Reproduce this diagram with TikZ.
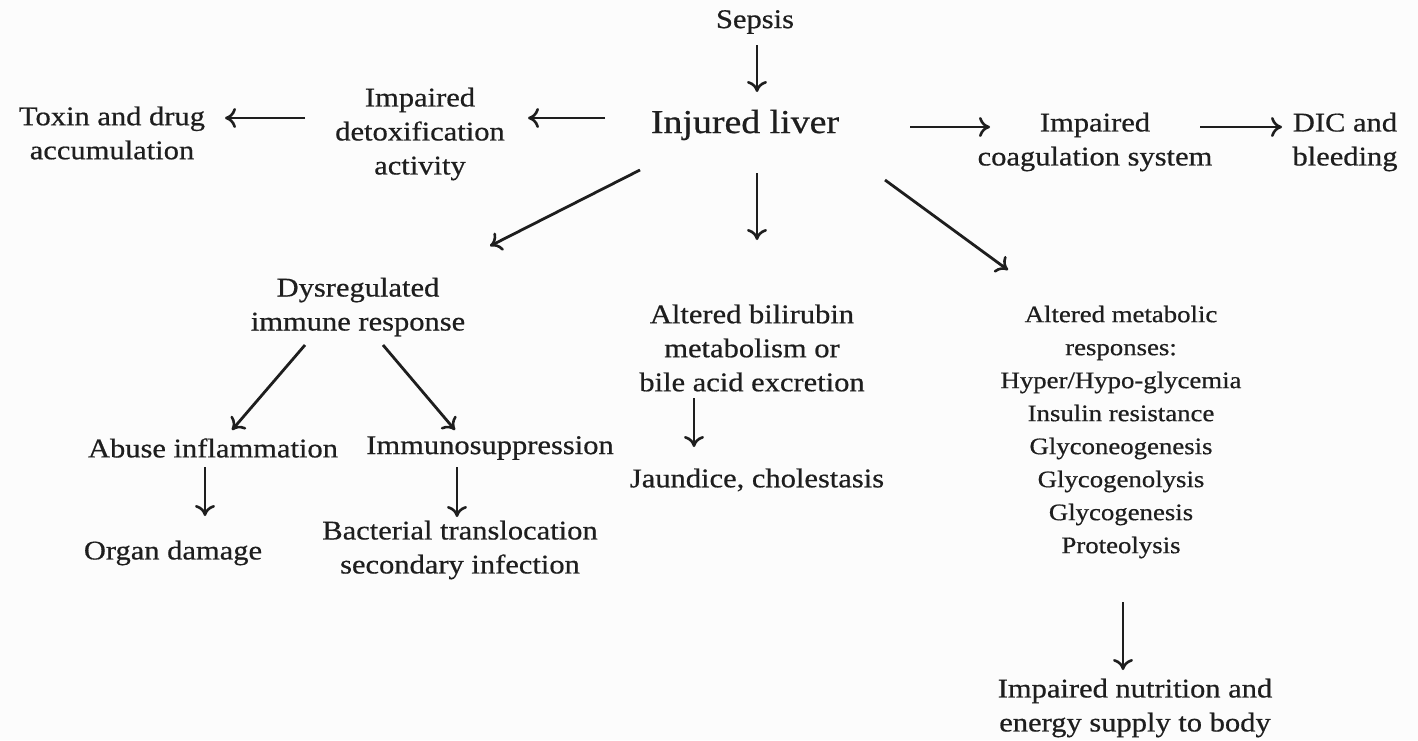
\documentclass[tikz,border=0pt]{standalone}
\usepackage{fontspec}
\setmainfont{Liberation Serif}[FakeStretch=1.13,FakeBold=0.6]
\usetikzlibrary{arrows.meta,calc}
\definecolor{ink}{HTML}{1E1E1E}
\definecolor{paper}{HTML}{FCFCFC}
\begin{document}
\begin{tikzpicture}[x=1pt,y=-1pt,
  lbl/.style={inner sep=0pt,align=center,text=ink,font=\fontsize{27}{34}\selectfont},
  small/.style={inner sep=0pt,align=center,text=ink,font=\fontsize{23.7}{33}\selectfont},
  big/.style={inner sep=0pt,align=center,text=ink,font=\fontsize{33.5}{36}\selectfont},
  arr/.style={draw=ink,line width=2.8pt,-{To[length=11pt,width=20pt,line width=2.6pt]}}]
\useasboundingbox[fill=paper] (0,0) rectangle (1418,740);
\node[lbl] (sep) at (755,22) {Sepsis};
\node[big] (inj) at (745,125) {Injured liver};
\node[lbl] (det) at (420,134) {Impaired\\detoxification\\activity};
\node[lbl] (tox) at (112,133) {Toxin and drug\\accumulation};
\node[lbl] (coag) at (1095,142) {Impaired\\coagulation system};
\node[lbl] (dic) at (1345,142) {DIC and\\bleeding};
\node[lbl] (dys) at (358,307) {Dysregulated\\immune response};
\node[lbl] (bil) at (752,348) {Altered bilirubin\\metabolism or\\bile acid excretion};
\node[small] (met) at (1121,432) {Altered metabolic\\responses:\\Hyper/Hypo-glycemia\\Insulin resistance\\Glyconeogenesis\\Glycogenolysis\\Glycogenesis\\Proteolysis};
\node[lbl] (abu) at (213,448) {Abuse inflammation};
\node[lbl] (imm) at (490,448) {Immunosuppression};
\node[lbl] (org) at (173,553) {Organ damage};
\node[lbl] (bac) at (460,550) {Bacterial translocation\\secondary infection};
\node[lbl] (jau) at (757,480) {Jaundice, cholestasis};
\node[lbl] (nut) at (1135,708) {Impaired nutrition and\\energy supply to body};

\draw[arr] ($(sep)+(2,23)$) -- ($(inj)+(12,-33)$);
\draw[arr] ($(inj)+(-140,-7)$) -- ($(det)+(108,-16)$);
\draw[arr] ($(det)+(-115,-16)$) -- ($(tox)+(113,-15)$);
\draw[arr] ($(inj)+(165,2)$) -- ($(coag)+(-105,-15)$);
\draw[arr] ($(coag)+(105,-15)$) -- ($(dic)+(-63,-15)$);
\draw[arr] ($(inj)+(-105,45)$) -- ($(dys)+(132,-61)$);
\draw[arr] ($(inj)+(12,48)$) -- ($(bil)+(5,-108)$);
\draw[arr] ($(inj)+(140,55)$) -- ($(met)+(-113,-162)$);
\draw[arr] ($(dys)+(-53,38)$) -- ($(abu)+(19,-18)$);
\draw[arr] ($(dys)+(25,38)$) -- ($(imm)+(-35,-18)$);
\draw[arr] ($(abu)+(-8,19)$) -- ($(org)+(32,-37)$);
\draw[arr] ($(imm)+(-33,19)$) -- ($(bac)+(-3,-33)$);
\draw[arr] ($(bil)+(-58,50)$) -- ($(jau)+(-63,-33)$);
\draw[arr] ($(met)+(2,170)$) -- ($(nut)+(-12,-38)$);
\end{tikzpicture}
\end{document}
